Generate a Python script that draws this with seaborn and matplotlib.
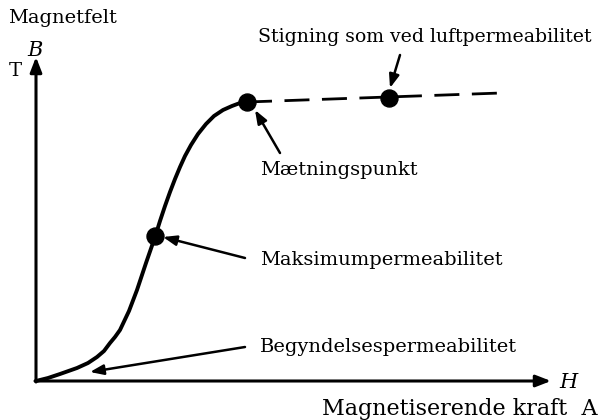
import matplotlib
matplotlib.use("Agg")
import matplotlib.pyplot as plt
import seaborn as sns
import pandas as pd

# Magnetization curve data (H, B in arbitrary drawing units)
curve_H = [0, 12, 24, 41, 52, 61, 68, 74, 79, 84, 93, 101, 110, 119, 124, 129, 134, 139, 144, 149, 155, 162, 170, 178, 187, 196, 204, 211]
curve_B = [0, 3, 7, 13, 18, 24, 30, 38, 44, 51, 70, 91, 118, 144, 160, 175, 189, 202, 214, 225, 236, 247, 257, 265, 271, 275, 278, 279]
air_H = [211, 465]
air_B = [279, 288]
points_H = [119, 211, 353]
points_B = [145, 279, 283]
point_names = ["Maksimumpermeabilitet", "Mætningspunkt", "Stigning som ved luftpermeabilitet"]

sns.set_style("white")
plt.rcParams['font.family'] = ['DejaVu Serif']

fig = plt.figure(figsize=(6.1, 4.2), dpi=100)
ax = fig.add_axes([0, 0, 1, 1])
ax.set_xlim(-36, 574)
ax.set_ylim(-39, 381)
ax.axis("off")

df_curve = pd.DataFrame({"H": curve_H, "B": curve_B})
df_air = pd.DataFrame({"H": air_H, "B": air_B})
df_pts = pd.DataFrame({"H": points_H, "B": points_B, "name": point_names})

sns.lineplot(data=df_curve, x="H", y="B", ax=ax, color="black", linewidth=2.8,
             sort=False, estimator=None)
sns.lineplot(data=df_air, x="H", y="B", ax=ax, color="black", linewidth=2.0,
             sort=False, estimator=None, dashes=False)
ax.lines[-1].set_dashes([9, 4.5])
sns.scatterplot(data=df_pts, x="H", y="B", ax=ax, color="black", s=150, zorder=5,
                edgecolor="black")

# axes arrows
arr = dict(arrowstyle="-|>,head_length=0.9,head_width=0.35", color="black", lw=2.2,
           shrinkA=0, shrinkB=0)
ax.annotate("", xy=(0, 324), xytext=(0, -1), arrowprops=arr)
ax.annotate("", xy=(515, 0), xytext=(-1, 0), arrowprops=arr)

fs = 14
tc = "black"
ax.text(-28, 363, "Magnetfelt", fontsize=fs, va="center", ha="left", color=tc)
ax.text(-1, 331, "B", fontsize=fs + 1, style="italic", va="center", ha="center", color=tc)
ax.text(-21, 310, "T", fontsize=fs, va="center", ha="center", color=tc)
ax.text(532, -1, "H", fontsize=fs + 1, style="italic", va="center", ha="center", color=tc)
ax.text(562, -34, "Magnetiserende kraft  A", fontsize=16, va="baseline", ha="right", color=tc)

pa = dict(arrowstyle="-|>,head_length=0.8,head_width=0.3", color="black", lw=1.8,
          shrinkA=0, shrinkB=0)
ax.text(222, 344, "Stigning som ved luftpermeabilitet", fontsize=13.6, va="center", ha="left", color=tc)
ax.annotate("", xy=(354, 293), xytext=(364, 326), arrowprops=pa)
ax.text(224, 211, "Mætningspunkt", fontsize=fs, va="center", ha="left", color=tc)
ax.annotate("", xy=(219, 271), xytext=(244, 228), arrowprops=pa)
ax.text(224, 121, "Maksimumpermeabilitet", fontsize=fs, va="center", ha="left", color=tc)
ax.annotate("", xy=(127, 144), xytext=(209, 123), arrowprops=pa)
ax.text(224, 34, "Begyndelsespermeabilitet", fontsize=fs, va="center", ha="left", color=tc)
ax.annotate("", xy=(54, 9), xytext=(209, 34), arrowprops=pa)

fig.savefig("out.png", dpi=100)
